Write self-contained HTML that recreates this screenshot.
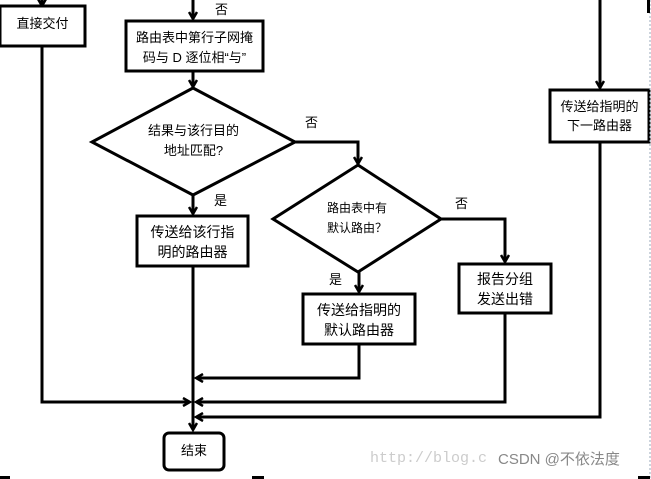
<!DOCTYPE html>
<html><head><meta charset="utf-8"><style>
html,body{margin:0;padding:0;background:#fff}
body{width:651px;height:479px;position:relative;overflow:hidden;font-family:"Liberation Sans","Noto Sans CJK SC",sans-serif}
.t{position:absolute;font-size:13px;color:#000;white-space:nowrap;line-height:18px;text-align:center}
</style></head><body>
<svg width="651" height="479" style="position:absolute;left:0;top:0">
<defs><marker id="a" markerWidth="10" markerHeight="10" refX="8" refY="5" orient="auto" markerUnits="userSpaceOnUse"><path d="M1,1 L8,5 L1,9" fill="none" stroke="#000" stroke-width="2.5"/></marker></defs>
<g stroke="#000" stroke-width="3" fill="none">
<line x1="42" y1="0" x2="42" y2="6" marker-end="url(#a)"/>
<rect x="0" y="6" width="85" height="40" fill="#fff"/>
<polyline points="42,46 42,402 190,402" marker-end="url(#a)"/>
<line x1="193" y1="0" x2="193" y2="19" marker-end="url(#a)"/>
<rect x="126" y="21" width="137" height="50" fill="#fff"/>
<line x1="193" y1="71" x2="193" y2="87" marker-end="url(#a)"/>
<polygon points="193,88 295,142 193,195 92,142" fill="#fff"/>
<line x1="193" y1="195" x2="193" y2="214" marker-end="url(#a)"/>
<rect x="137" y="216" width="111" height="50" fill="#fff"/>
<line x1="193" y1="266" x2="193" y2="430" marker-end="url(#a)"/>
<polyline points="295,142 358,142 358,164" marker-end="url(#a)"/>
<polygon points="358,165 441,219 358,272 273,219" fill="#fff"/>
<line x1="359" y1="272" x2="359" y2="292" marker-end="url(#a)"/>
<rect x="303" y="294" width="112" height="50" fill="#fff"/>
<polyline points="359,344 359,378 196,378" marker-end="url(#a)"/>
<polyline points="441,219 505,219 505,262" marker-end="url(#a)"/>
<rect x="459" y="264" width="92" height="49" fill="#fff"/>
<polyline points="505,313 505,402 196,402" marker-end="url(#a)"/>
<line x1="600" y1="0" x2="600" y2="88" marker-end="url(#a)"/>
<rect x="550" y="90" width="99" height="52" fill="#fff"/>
<polyline points="600,142 600,417 196,417" marker-end="url(#a)"/>
<rect x="164" y="433" width="60" height="37" rx="5" fill="#fff"/>
</g>
<line x1="650" y1="0" x2="650" y2="479" stroke="#9ab" stroke-width="1" stroke-dasharray="2,2"/>
<rect x="647" y="0" width="3" height="13" fill="#000"/>
<rect x="0" y="476" width="10" height="3" fill="#000"/>
<rect x="252" y="476" width="12" height="3" fill="#000"/>
<rect x="638" y="476" width="12" height="3" fill="#000"/>
</svg>
<div class="t" style="left:0;top:15px;width:85px">直接交付</div>
<div class="t" style="left:215px;top:1px">否</div>
<div class="t" style="left:126px;top:28px;width:137px;line-height:20px">路由表中第行子网掩<br>码与 D 逐位相“与”</div>
<div class="t" style="left:92px;top:121px;width:203px;line-height:20px">结果与该行目的<br>地址匹配?</div>
<div class="t" style="left:305px;top:114px">否</div>
<div class="t" style="left:214px;top:192px">是</div>
<div class="t" style="left:137px;top:222px;width:111px;font-size:14px;line-height:20px">传送给该行指<br>明的路由器</div>
<div class="t" style="left:273px;top:198px;width:168px;font-size:12px;line-height:20px">路由表中有<br>默认路由？</div>
<div class="t" style="left:455px;top:195px">否</div>
<div class="t" style="left:329px;top:271px">是</div>
<div class="t" style="left:303px;top:300px;width:112px;font-size:14px;line-height:20px">传送给指明的<br>默认路由器</div>
<div class="t" style="left:459px;top:269px;width:92px;font-size:14px;line-height:20px">报告分组<br>发送出错</div>
<div class="t" style="left:550px;top:97px;width:99px;line-height:19px">传送给指明的<br>下一路由器</div>
<div class="t" style="left:164px;top:442px;width:60px">结束</div>
<div class="t" style="left:370px;top:450px;font-family:'Liberation Mono',monospace;font-size:15px;color:#ccc">http://blog.c</div>
<div class="t" style="left:498px;top:451px;font-size:15px;color:#888">CSDN @不依法度</div>
</body></html>
